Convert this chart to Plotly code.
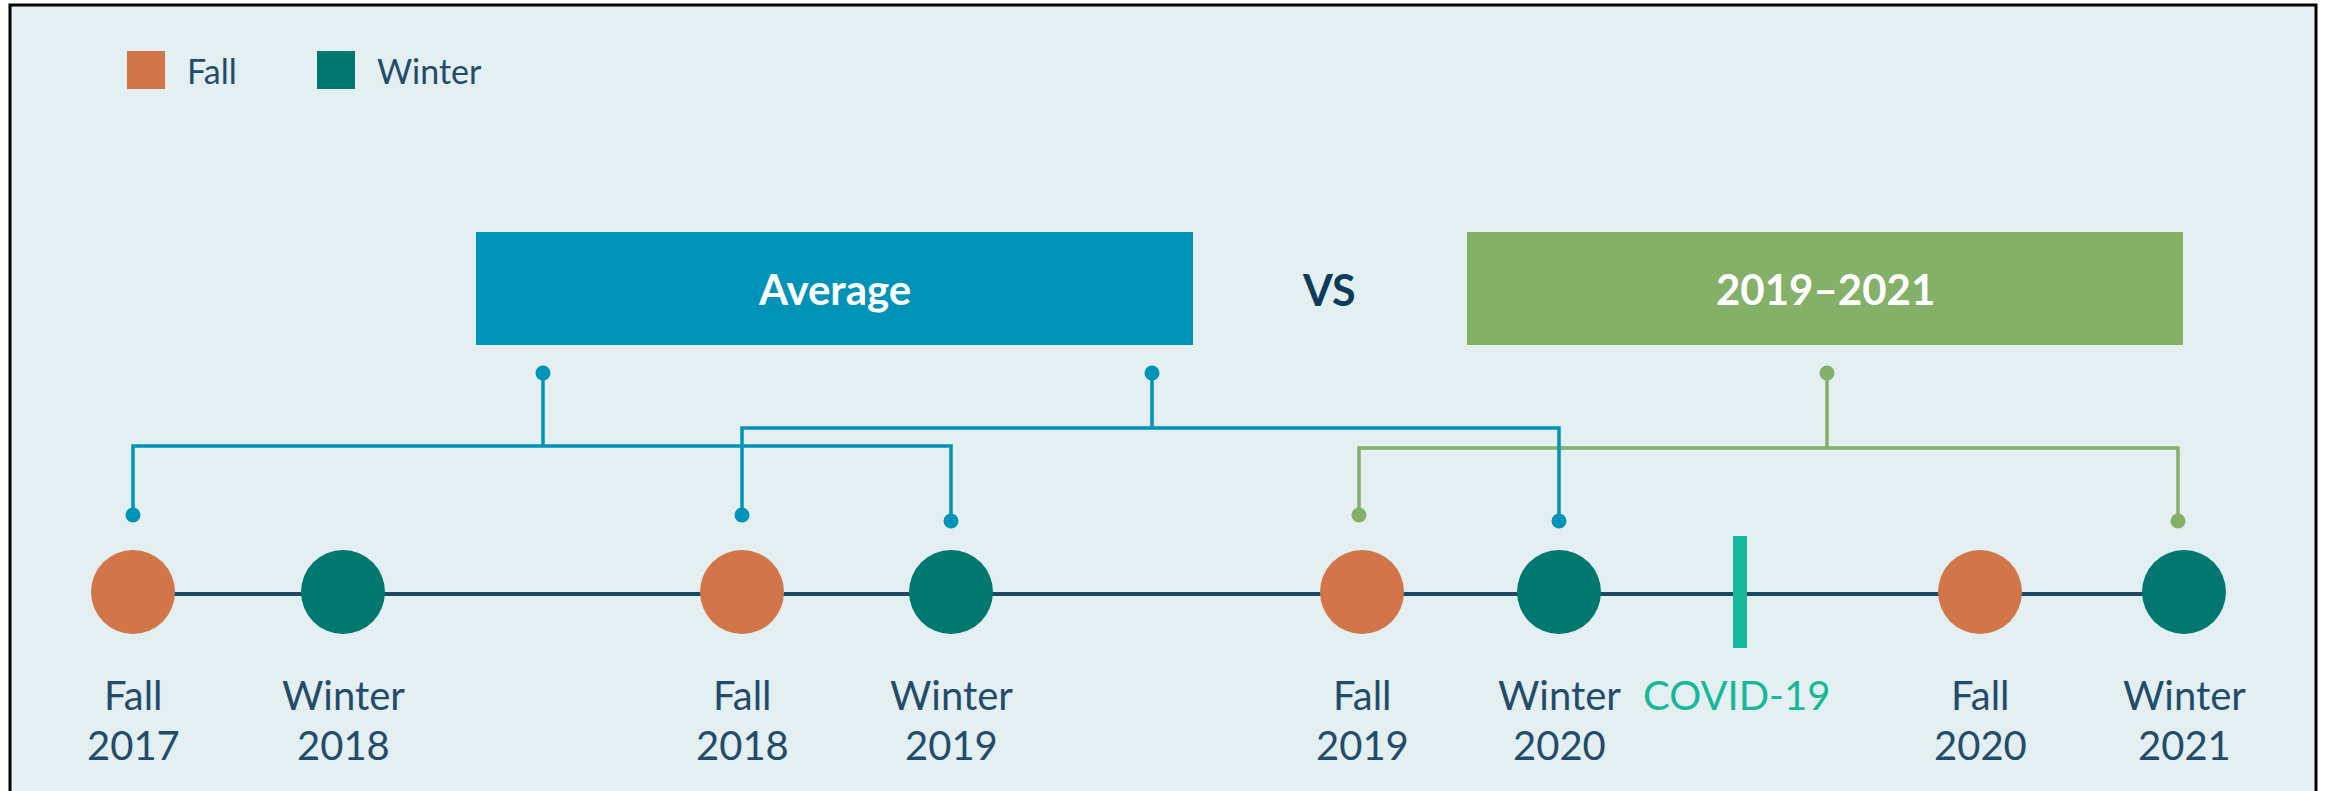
import plotly.graph_objects as go

# ---------------- data ----------------
seasons = ["Fall", "Winter", "Fall", "Winter", "Fall", "Winter", "Fall", "Winter"]
years = ["2017", "2018", "2018", "2019", "2019", "2020", "2020", "2021"]
group_names = ["Average", "2019–2021"]
# pairs of event indices linked to each group bracket
average_links = [(0, 3), (2, 5)]
recent_links = [(4, 7)]
marker_text = "COVID-19"
compare_word = "VS"
legend_items = ["Fall", "Winter"]

# ---------------- layout (pixel space) ----------------
W, H = 2333, 791
event_x = [133, 343, 742, 951, 1362, 1559, 1980, 2184]
covid_x = 1740
timeline_y = 594
season_color = {"Fall": "#D2764A", "Winter": "#00776F"}
bg = "#E4EFF1"
blue = "#0093B8"
green = "#84B068"
navy = "#1B4A66"
label_col = "#234B6B"
covid_col = "#16B89A"
font = "Lato"

fig = go.Figure()
shapes = []
ann = []

# frame
shapes.append(dict(type="rect", x0=10, y0=5, x1=2316, y1=820, line=dict(color="black", width=3),
                   fillcolor=bg, layer="below"))

# timeline
shapes.append(dict(type="line", x0=event_x[0], x1=event_x[-1], y0=timeline_y, y1=timeline_y,
                   line=dict(color=navy, width=4), layer="below"))
# covid bar
shapes.append(dict(type="line", x0=covid_x, x1=covid_x, y0=536, y1=648,
                   line=dict(color=covid_col, width=14), layer="below"))

# group boxes
boxes = [(476, 1193, blue), (1467, 2183, green)]
for (x0, x1, c), name in zip(boxes, group_names):
    shapes.append(dict(type="rect", x0=x0, x1=x1, y0=232, y1=345, fillcolor=c, line=dict(width=0), layer="below"))
    ann.append(dict(x=(x0 + x1) / 2, y=289, text=f"<b>{name}</b>", showarrow=False,
                    font=dict(family=font, size=42, color="white"), xanchor="center", yanchor="middle"))
ann.append(dict(x=1329, y=289, text=f"<b>{compare_word}</b>", showarrow=False,
                font=dict(family=font, size=43, color="#0D3B5C"), xanchor="center", yanchor="middle"))

# brackets
def dot_y(i):
    return 515 if seasons[i] == "Fall" else 521

# (link, drop x offsets from event centres, top x, horizontal y, colour)
brackets = [
    (average_links[0], (0, 0), 543, 446, blue),
    (average_links[1], (0, 0), 1152, 428, blue),
    (recent_links[0], (-3, -6), 1827, 448, green),
]
# draw green first so blue crosses on top
for (a, b), (da, db), topx, hy, c in sorted(brackets, key=lambda t: t[4] == blue):
    xa, xb = event_x[a] + da, event_x[b] + db
    fig.add_trace(go.Scatter(x=[xa, xa, xb, xb], y=[dot_y(a), hy, hy, dot_y(b)], mode="lines",
                             line=dict(color=c, width=3.5), hoverinfo="skip", showlegend=False))
    fig.add_trace(go.Scatter(x=[topx, topx], y=[373, hy], mode="lines",
                             line=dict(color=c, width=3.5), hoverinfo="skip", showlegend=False))
    fig.add_trace(go.Scatter(x=[topx, xa, xb], y=[373, dot_y(a), dot_y(b)], mode="markers",
                             marker=dict(color=c, size=15), hoverinfo="skip", showlegend=False))

# event circles
for s in ["Fall", "Winter"]:
    idx = [i for i, v in enumerate(seasons) if v == s]
    fig.add_trace(go.Scatter(x=[event_x[i] for i in idx], y=[timeline_y - 2] * len(idx), mode="markers",
                             marker=dict(color=season_color[s], size=84, line=dict(width=0)),
                             name=s, showlegend=False,
                             text=[f"{s} {years[i]}" for i in idx], hoverinfo="text"))

# labels
for i, (s, yv) in enumerate(zip(seasons, years)):
    ann.append(dict(x=event_x[i], y=695, text=s, showarrow=False, xanchor="center", yanchor="middle",
                    font=dict(family=font, size=40, color=label_col)))
    ann.append(dict(x=event_x[i], y=745, text=yv, showarrow=False, xanchor="center", yanchor="middle",
                    font=dict(family=font, size=40, color=label_col)))
ann.append(dict(x=covid_x - 4, y=695, text=marker_text, showarrow=False, xanchor="center", yanchor="middle",
                font=dict(family=font, size=40, color=covid_col)))

# legend
leg_x = [146, 336]
fig.add_trace(go.Scatter(x=leg_x, y=[70, 70], mode="markers",
                         marker=dict(symbol="square", size=38, color=[season_color[s] for s in legend_items]),
                         hoverinfo="skip", showlegend=False))
for lx, s in zip(leg_x, legend_items):
    ann.append(dict(x=lx + 39, y=70, text=s, showarrow=False, xanchor="left", yanchor="middle",
                    font=dict(family=font, size=34, color=label_col)))

fig.update_layout(
    width=W, height=H, margin=dict(l=0, r=0, t=0, b=0),
    paper_bgcolor="white", plot_bgcolor="rgba(0,0,0,0)",
    xaxis=dict(range=[0, W], visible=False, fixedrange=True),
    yaxis=dict(range=[H, 0], visible=False, fixedrange=True),
    shapes=shapes, annotations=ann, showlegend=False,
)
fig.write_html("out.html", config={"displayModeBar": False},
               post_script="document.body.style.margin='0';document.body.style.overflow='hidden';")
